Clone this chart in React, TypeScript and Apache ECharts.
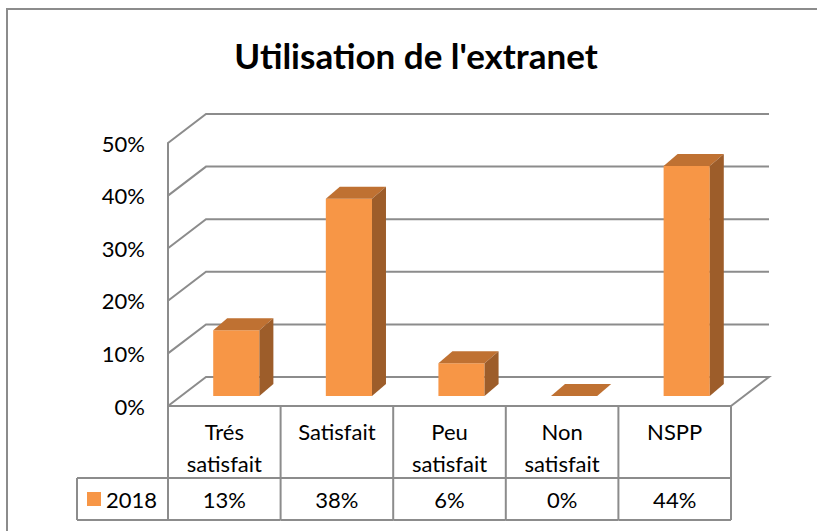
import React, { useEffect, useRef } from "react";
import * as echarts from "echarts";

// ---- data ----
const chartTitle = "Utilisation de l'extranet";
const categories = ["Trés satisfait", "Satisfait", "Peu satisfait", "Non satisfait", "NSPP"];
const seriesName = "2018";
const values2018 = [12.5, 37.5, 6.25, 0, 43.75];
const yTicks = [0, 10, 20, 30, 40, 50];
const valueLabels = values2018.map((v) => Math.round(v) + "%");

// ---- style ----
const FONT = "Lato, 'Noto Sans', sans-serif";
const GRAY = "#8c8c8c";
const FRONT = "#F79646";
const TOP = "#BF7132";
const SIDE = "#9D5D2A";
const DX = 38; // wall depth
const DY = -29;
const OX = 12; // bar front plane offset
const OY = -10;
const BX = 14; // bar depth
const BY = -12;
const ROW1 = 72;
const ROW2 = 42;
const LEGEND_W = 91;

export default function App() {
  const ref = useRef<HTMLDivElement>(null);
  useEffect(() => {
    document.body.style.margin = "0";
    document.documentElement.style.overflow = "hidden";
    const chart = echarts.init(ref.current!, undefined, { renderer: "svg" });
    const option: any = {
      animation: false,
      backgroundColor: "#fff",
      graphic: [
        {
          type: "line",
          shape: { x1: 7, y1: 8, x2: 7, y2: 531 },
          style: { stroke: GRAY, lineWidth: 2 },
        },
        {
          type: "line",
          shape: { x1: 6, y1: 9, x2: 830, y2: 9 },
          style: { stroke: GRAY, lineWidth: 2 },
        },
        {
          type: "text",
          x: 416,
          y: 55,
          style: {
            text: chartTitle,
            fontFamily: FONT,
            fontWeight: "bold",
            fontSize: 35,
            fill: "#000",
            align: "center",
            verticalAlign: "middle",
          },
        },
      ],
      legend: {
        show: true,
        data: [seriesName],
        left: 87,
        top: 488,
        padding: 0,
        itemWidth: 14,
        itemHeight: 14,
        icon: "rect",
        selectedMode: false,
        textStyle: { fontFamily: FONT, fontSize: 22, color: "#000" },
      },
      grid: { left: 168, right: 86, top: 143, bottom: 125 },
      xAxis: {
        type: "category",
        data: categories,
        axisLine: { show: true, lineStyle: { color: GRAY, width: 2 } },
        axisTick: { show: false },
        axisLabel: {
          interval: 0,
          formatter: (s: string) => s.replace(" ", "\n"),
          fontFamily: FONT,
          fontSize: 22,
          lineHeight: 32,
          margin: 9,
          color: "#000",
        },
        splitLine: { show: false },
      },
      yAxis: {
        type: "value",
        min: 0,
        max: 50,
        interval: 10,
        axisLine: { show: true, lineStyle: { color: GRAY, width: 2 } },
        axisTick: { show: false },
        splitLine: { show: false },
        axisLabel: {
          formatter: (v: number) => v + "%",
          fontFamily: FONT,
          fontSize: 22,
          margin: 23,
          color: "#000",
        },
      },
      series: [
        {
          type: "custom",
          name: "walls",
          silent: true,
          z: 1,
          data: yTicks.map((v) => [0, v]),
          renderItem: (params: any, api: any) => {
            const cs = params.coordSys;
            const v = api.value(1);
            const y = api.coord([0, v])[1];
            const left = cs.x;
            const right = cs.x + cs.width;
            const pts =
              v === 0
                ? [
                    [left, y],
                    [left + DX, y + DY],
                    [right + DX, y + DY],
                    [right, y],
                  ]
                : [
                    [left, y],
                    [left + DX, y + DY],
                    [right + DX, y + DY],
                  ];
            return {
              type: "polyline",
              shape: { points: pts },
              style: { stroke: GRAY, lineWidth: 2, fill: "none" },
            };
          },
        },
        {
          type: "custom",
          name: "table",
          silent: true,
          z: 1,
          data: categories.map((c, i) => [i, 0]),
          renderItem: (params: any, api: any) => {
            const i = api.value(0);
            const [cx, y0] = api.coord([i, 0]);
            const w = api.size([1, 0])[0];
            const L = cx - w / 2;
            const R = cx + w / 2;
            const yMid = y0 + ROW1;
            const yBot = y0 + ROW1 + ROW2;
            const ls = { stroke: GRAY, lineWidth: 2 };
            const children: any[] = [
              { type: "line", shape: { x1: L, y1: y0, x2: L, y2: yBot }, style: ls },
              { type: "line", shape: { x1: L, y1: yMid, x2: R, y2: yMid }, style: ls },
              { type: "line", shape: { x1: L, y1: yBot, x2: R, y2: yBot }, style: ls },
              {
                type: "text",
                x: cx,
                y: yMid + ROW2 / 2,
                style: {
                  text: valueLabels[i],
                  fontFamily: FONT,
                  fontSize: 22,
                  fill: "#000",
                  align: "center",
                  verticalAlign: "middle",
                },
              },
            ];
            if (i === categories.length - 1) {
              children.push({ type: "line", shape: { x1: R, y1: y0, x2: R, y2: yBot }, style: ls });
            }
            if (i === 0) {
              const LL = L - LEGEND_W;
              children.push(
                { type: "line", shape: { x1: LL, y1: yMid, x2: L, y2: yMid }, style: ls },
                { type: "line", shape: { x1: LL, y1: yBot, x2: L, y2: yBot }, style: ls },
                { type: "line", shape: { x1: LL, y1: yMid, x2: LL, y2: yBot }, style: ls }
              );
            }
            return { type: "group", children };
          },
        },
        {
          type: "custom",
          name: seriesName,
          z: 2,
          itemStyle: { color: FRONT },
          data: values2018.map((v, i) => [i, v]),
          renderItem: (params: any, api: any) => {
            const i = api.value(0);
            const v = api.value(1);
            const [cx, yv] = api.coord([i, v]);
            const y0 = api.coord([i, 0])[1];
            const w = api.size([1, 0])[0] * 0.41;
            const L = cx + OX - w / 2;
            const R = L + w;
            const T = yv + OY;
            const B = y0 + OY;
            return {
              type: "group",
              children: [
                { type: "rect", shape: { x: L, y: T, width: w, height: B - T }, style: { fill: FRONT } },
                {
                  type: "polygon",
                  shape: { points: [[L, T], [R, T], [R + BX, T + BY], [L + BX, T + BY]] },
                  style: { fill: TOP },
                },
                {
                  type: "polygon",
                  shape: { points: [[R, T], [R + BX, T + BY], [R + BX, B + BY], [R, B]] },
                  style: { fill: SIDE },
                },
              ],
            };
          },
        },
      ],
    };
    chart.setOption(option);
    return () => chart.dispose();
  }, []);
  return (
    <div
      ref={ref}
      style={{ position: "fixed", left: 0, top: 0, width: 817, height: 531 }}
    />
  );
}
